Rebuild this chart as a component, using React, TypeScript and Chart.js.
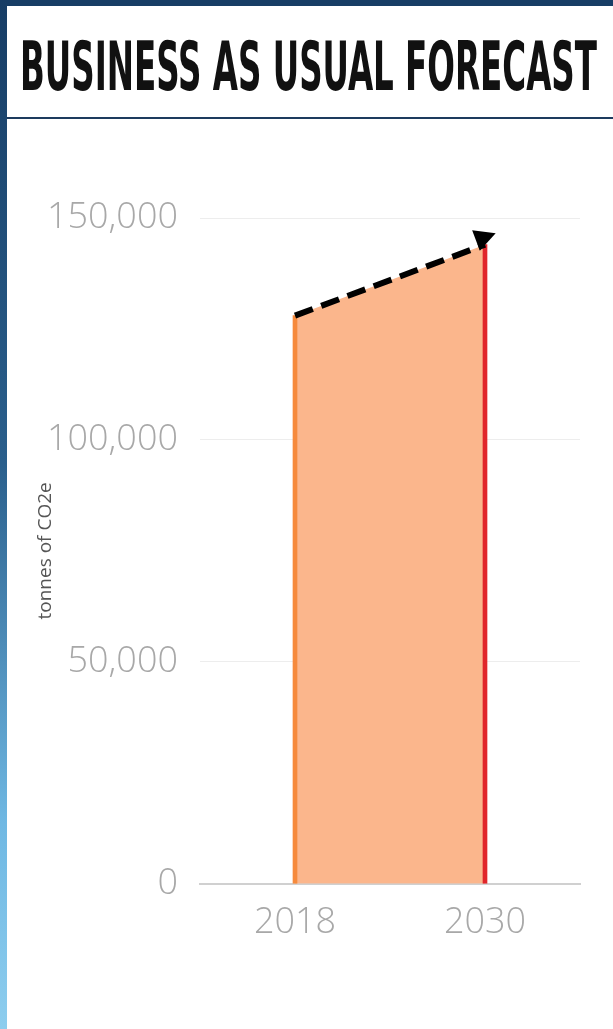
import React, { useEffect, useLayoutEffect, useRef, useState } from 'react';
import { Chart, registerables } from 'chart.js';
Chart.register(...registerables);

const categories = ['2018', '2030'];
const emissions = [128000, 144000];
const yTickValues = [0, 50000, 100000, 150000];
const titleText = 'BUSINESS AS USUAL FORECAST';
const yAxisTitle = 'tonnes of CO2e';

const arrowPlugin = {
  id: 'arrowHead',
  afterDatasetsDraw(chart: any) {
    const idx = chart.data.datasets.findIndex((d: any) => d.label === 'trend');
    if (idx < 0) return;
    const pts = chart.getDatasetMeta(idx).data;
    if (pts.length < 2) return;
    const a = pts[0], b = pts[pts.length - 1];
    const dx = b.x - a.x, dy = b.y - a.y;
    const len = Math.hypot(dx, dy);
    const ux = dx / len, uy = dy / len;
    const nx = -uy, ny = ux;
    const shift = -7;
    const tip = { x: b.x + ux * 14 + nx * shift, y: b.y + uy * 14 + ny * shift };
    const base = { x: b.x - ux * 7 + nx * shift, y: b.y - uy * 7 + ny * shift };
    const ctx = chart.ctx;
    ctx.save();
    ctx.fillStyle = '#000';
    ctx.beginPath();
    ctx.moveTo(tip.x, tip.y);
    ctx.lineTo(base.x + nx * 11, base.y + ny * 11);
    ctx.lineTo(base.x - nx * 11, base.y - ny * 11);
    ctx.closePath();
    ctx.fill();
    ctx.restore();
  },
};

function Title() {
  const ref = useRef<HTMLSpanElement>(null);
  const [sx, setSx] = useState(1);
  const F = 42;
  const sy = 48 / (0.716 * F);
  useLayoutEffect(() => {
    if (ref.current) {
      const w = ref.current.getBoundingClientRect().width / sx;
      setSx(577 / w);
    }
  }, []);
  return (
    <span
      ref={ref}
      style={{
        position: 'absolute',
        left: 20,
        top: 43 - 0.13 * F * sy,
        fontFamily: '"Liberation Sans Narrow", "DejaVu Sans Condensed", sans-serif',
        fontWeight: 700,
        fontSize: F,
        lineHeight: 1,
        whiteSpace: 'nowrap',
        color: '#111',
        transformOrigin: 'left top',
        transform: `scale(${sx}, ${sy})`,
      }}
    >
      {titleText}
    </span>
  );
}

export default function App() {
  const canvasRef = useRef<HTMLCanvasElement>(null);

  useEffect(() => {
    if (!canvasRef.current) return;
    const chart = new Chart(canvasRef.current, {
      type: 'line',
      data: {
        labels: categories,
        datasets: [
          {
            type: 'line',
            label: 'trend',
            data: emissions,
            borderColor: '#000',
            borderWidth: 6,
            borderDash: [19, 9],
            pointRadius: 0,
            fill: false,
            order: 1,
          } as any,
          {
            type: 'bar',
            label: 'edges',
            data: emissions,
            backgroundColor: ['#f68a3c', '#e0262b'],
            barThickness: 4,
            order: 2,
          } as any,
          {
            type: 'line',
            label: 'area',
            data: emissions,
            borderWidth: 0,
            borderColor: 'rgba(0,0,0,0)',
            backgroundColor: '#fbb68c',
            pointRadius: 0,
            fill: 'origin',
            order: 3,
          } as any,
        ],
      },
      options: {
        animation: false,
        responsive: false,
        maintainAspectRatio: false,
        layout: { padding: { top: 88, left: 0, right: 33, bottom: 49 } },
        plugins: { legend: { display: false }, tooltip: { enabled: false } },
        scales: {
          x: {
            offset: true,
            grid: { display: false, drawTicks: false },
            border: { display: true, color: '#d0d0d0', width: 2 },
            ticks: {
              color: '#a8a8a8',
              padding: 17,
              font: { family: '"Open Sans"', weight: 300 as any, size: 36 },
            },
          },
          y: {
            min: 0,
            max: 150000,
            afterBuildTicks: (s: any) => {
              s.ticks = yTickValues.map((v) => ({ value: v }));
            },
            afterFit: (s: any) => {
              s.width = 200;
            },
            grid: {
              color: (c: any) => (c.tick && c.tick.value === 0 ? 'rgba(0,0,0,0)' : '#ededed'),
              drawTicks: false,
            },
            border: { display: false },
            ticks: {
              color: '#a8a8a8',
              padding: 22,
              font: { family: '"Open Sans"', weight: 300 as any, size: 36 },
              callback: (v: any) => Number(v).toLocaleString('en-US'),
            },
            title: {
              display: true,
              text: yAxisTitle,
              color: '#555',
              font: { family: '"Open Sans"', size: 19 },
              padding: { top: 34, bottom: 0 },
            },
          },
        },
      },
      plugins: [arrowPlugin],
    });
    return () => chart.destroy();
  }, []);

  return (
    <div
      style={{
        position: 'absolute',
        left: 0,
        top: 0,
        width: 613,
        height: 1029,
        background: '#fff',
        overflow: 'hidden',
      }}
    >
      <canvas
        ref={canvasRef}
        width={613}
        height={880}
        style={{ position: 'absolute', left: 0, top: 130, width: 613, height: 880 }}
      />
      <Title />
      <div style={{ position: 'absolute', left: 0, top: 117, width: 613, height: 2, background: '#1d3b5e' }} />
      <div style={{ position: 'absolute', left: 0, top: 0, width: 613, height: 6, background: '#173d65' }} />
      <div
        style={{
          position: 'absolute',
          left: 0,
          top: 0,
          width: 7,
          height: 1029,
          background: 'linear-gradient(to bottom, #173d65 0%, #2a5f8c 45%, #6fb8e3 80%, #8dcdee 100%)',
        }}
      />
    </div>
  );
}
